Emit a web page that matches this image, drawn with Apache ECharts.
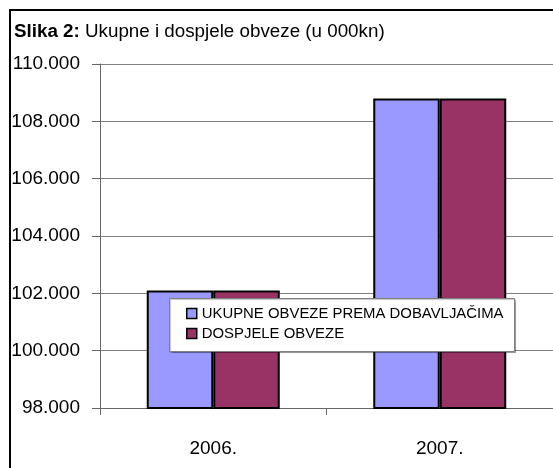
<!DOCTYPE html>
<html>
<head>
<meta charset="utf-8">
<script src="https://cdn.jsdelivr.net/npm/echarts@6/dist/echarts.min.js"></script>
<style>
html,body{margin:0;padding:0;background:#fff;}
#chart{width:553px;height:468px;}
</style>
</head>
<body>
<div id="chart"></div>
<script>
const categories = ['2006.', '2007.'];
const seriesNames = ['UKUPNE OBVEZE PREMA DOBAVLJAČIMA', 'DOSPJELE OBVEZE'];
const ukupneObveze = [102100, 108800];
const dospjeleObveze = [102100, 108800];
const yMin = 98000, yMax = 110000, yStep = 2000;

const FONT = 'Arial, "Liberation Sans", sans-serif';
function fmt(v){
  const s = String(Math.floor(v/1000));
  const r = String(Math.round(v%1000)).padStart(3,'0');
  return s + '.' + r;
}

const chart = echarts.init(document.getElementById('chart'), null, {renderer:'canvas'});
chart.setOption({
  animation:false,
  backgroundColor:'#fff',
  textStyle:{fontFamily:FONT,color:'#000'},
  title:{
    text:'{b|Slika 2:} Ukupne i dospjele obveze (u 000kn)',
    left:14, top:22, padding:0,
    textStyle:{
      fontFamily:FONT, fontSize:18.8, fontWeight:'normal', color:'#000',
      rich:{ b:{fontFamily:FONT, fontSize:18.8, fontWeight:'bold', color:'#000'} }
    }
  },
  graphic:[
    {type:'rect', z:0, silent:true, shape:{x:10,y:10,width:600,height:500},
     style:{fill:'none', stroke:'#000', lineWidth:2}},
    {type:'rect', z:50, silent:true, shape:{x:169.5,y:298.5,width:345,height:53},
     style:{fill:'#fff', stroke:'#808080', lineWidth:1, shadowColor:'rgba(0,0,0,0.25)', shadowOffsetX:1, shadowOffsetY:1, shadowBlur:1}}
  ],
  legend:{
    orient:'vertical', left:181, top:302, z:60,
    padding:[4,0,0,5],
    itemWidth:10, itemHeight:10, itemGap:5,
    icon:'rect',
    itemStyle:{borderColor:'#000', borderWidth:1.5},
    textStyle:{fontFamily:FONT, fontSize:14.9, color:'#000'},
    data:seriesNames
  },
  grid:{left:100, right:-3, top:64, bottom:60, containLabel:false},
  xAxis:{
    type:'category', data:categories,
    axisLine:{lineStyle:{color:'#666', width:1}},
    axisTick:{show:true, length:7, lineStyle:{color:'#666'}},
    axisLabel:{fontFamily:FONT, fontSize:19, color:'#000', margin:31}
  },
  yAxis:{
    type:'value', min:yMin, max:yMax, interval:yStep,
    axisLine:{show:true, lineStyle:{color:'#666', width:1}},
    axisTick:{show:true, length:8, lineStyle:{color:'#666'}},
    splitLine:{lineStyle:{color:'#808080', width:1}},
    axisLabel:{fontFamily:FONT, fontSize:19, color:'#000', margin:20, formatter:fmt}
  },
  series:[
    {name:seriesNames[0], type:'bar', data:ukupneObveze, barWidth:66.5, barGap:'0%',
     itemStyle:{color:'#9999FF', borderColor:'#000', borderWidth:2}},
    {name:seriesNames[1], type:'bar', data:dospjeleObveze, barWidth:66.5, barGap:'0%',
     itemStyle:{color:'#993366', borderColor:'#000', borderWidth:2}}
  ]
});
</script>
</body>
</html>
